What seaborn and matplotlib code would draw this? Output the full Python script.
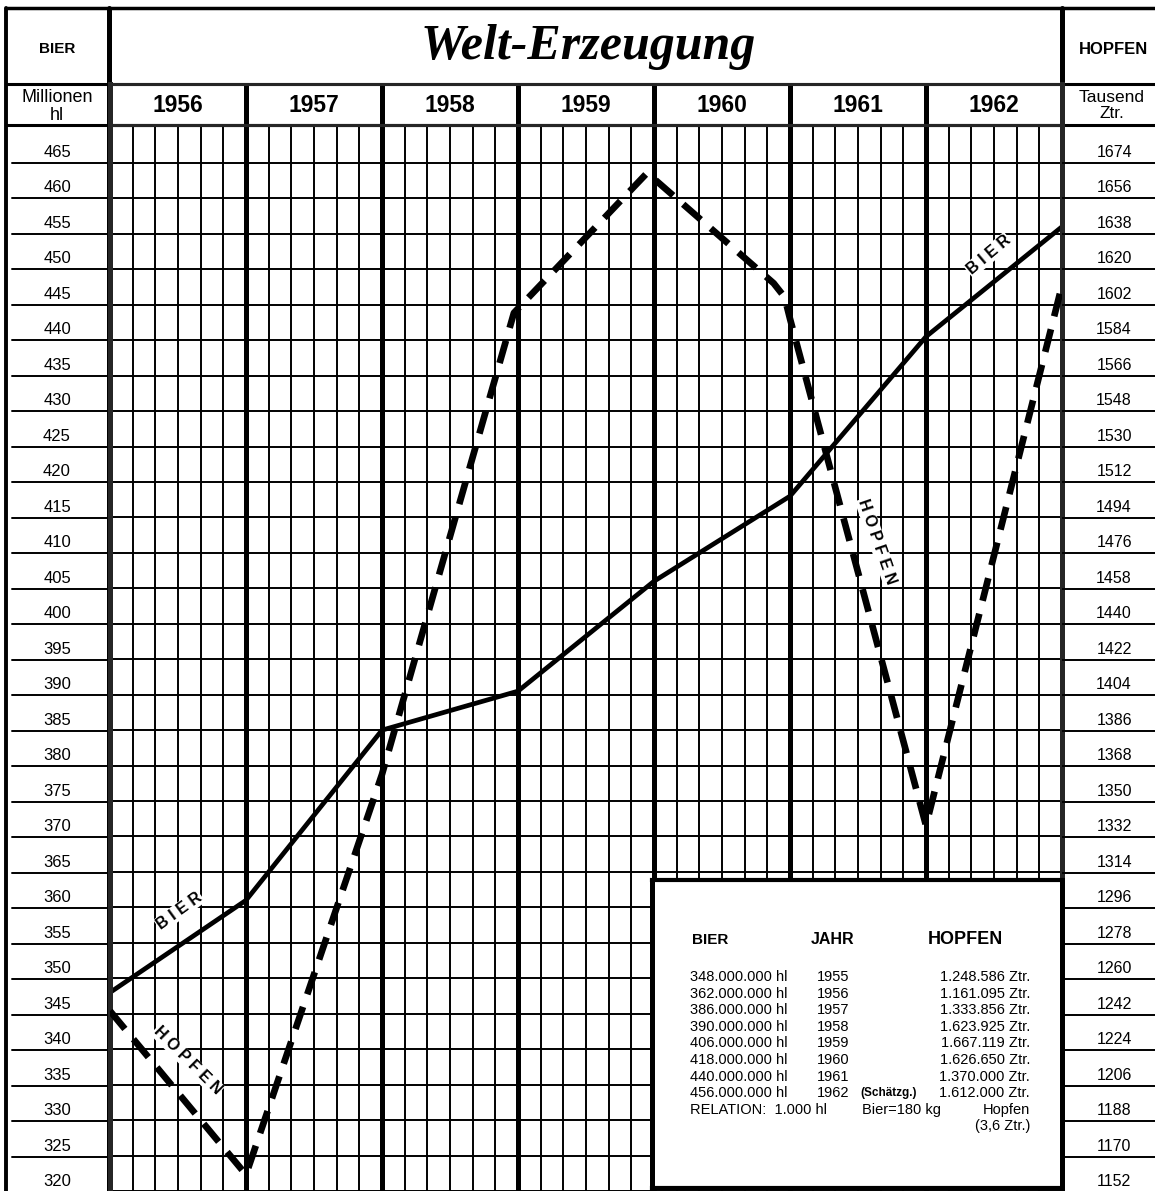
import numpy as np
import matplotlib
matplotlib.use("Agg")
import matplotlib.pyplot as plt
from matplotlib.ticker import MultipleLocator
import seaborn as sns

# year columns of the grid
years = [1956, 1957, 1958, 1959, 1960, 1961, 1962]

# Bier in Mio hl, one value per year, drawn at the end of its year
beer_years = [1955, 1956, 1957, 1958, 1959, 1960, 1961, 1962]
beer_mio_hl = [348, 361, 385, 390.5, 406, 418, 440.5, 456]

# Hopfen in Tausend Ztr. as drawn on the sheet (position in years)
hop_pos = [1956.0, 1957.0, 1958.0, 1958.97, 1959.95, 1960.88, 1960.96, 1961.0, 1962.0, 1963.0]
hop_tztr = [1244, 1161, 1364, 1598, 1669, 1613, 1606, 1595, 1338, 1612]

left_ticks = [465, 460, 455, 450, 445, 440, 435, 430, 425, 420, 415, 410, 405, 400, 395,
              390, 385, 380, 375, 370, 365, 360, 355, 350, 345, 340, 335, 330, 325, 320]
right_ticks = [1674, 1656, 1638, 1620, 1602, 1584, 1566, 1548, 1530, 1512, 1494, 1476, 1458, 1440, 1422,
               1404, 1386, 1368, 1350, 1332, 1314, 1296, 1278, 1260, 1242, 1224, 1206, 1188, 1170, 1152]

# table in the lower right corner
tab_beer = ["348.000.000 hl", "362.000.000 hl", "386.000.000 hl", "390.000.000 hl",
            "406.000.000 hl", "418.000.000 hl", "440.000.000 hl", "456.000.000 hl"]
tab_year = ["1955", "1956", "1957", "1958", "1959", "1960", "1961", "1962"]
tab_hop = ["1.248.586 Ztr.", "1.161.095 Ztr.", "1.333.856 Ztr.", "1.623.925 Ztr.",
           "1.667.119 Ztr.", "1.626.650 Ztr.", "1.370.000 Ztr.", "1.612.000 Ztr."]

sns.set_style("white")
plt.rcParams["font.family"] = ["Liberation Sans", "DejaVu Sans"]
plt.rcParams["text.color"] = "black"

W, H = 1155, 1191
fig = plt.figure(figsize=(W / 100, H / 100), dpi=100)
fig.patch.set_facecolor("white")

THICK = 3.6
THIN = 1.4

# background frame in pixel coordinates
bg = fig.add_axes([0, 0, 1, 1], zorder=0)
bg.set_xlim(0, W)
bg.set_ylim(H, 0)
bg.axis("off")
bg.plot([6, W], [8, 8], color="black", lw=2.5)
bg.plot([6, 6], [8, H], color="black", lw=2.8)
bg.plot([6, W], [84, 84], color="black", lw=2.2)
bg.plot([6, W], [125, 125], color="black", lw=2.2)
bg.plot([109, 109], [8, H], color="black", lw=THICK)
bg.plot([1062, 1062], [8, H], color="black", lw=THICK)

bg.text(588, 47, "Welt-Erzeugung", fontsize=36, fontweight="bold", fontstyle="italic",
        family=["Liberation Serif", "DejaVu Serif"], ha="center", va="center")
bg.text(57, 49, "BIER", fontsize=11, fontweight="bold", ha="center", va="center")
bg.text(57, 98, "Millionen", fontsize=13, ha="center", va="center")
bg.text(57, 115, "hl", fontsize=13, ha="center", va="center")
bg.text(1113, 50, "HOPFEN", fontsize=12, fontweight="bold", ha="center", va="center")
bg.text(1112, 97, "Tausend", fontsize=12.5, ha="center", va="center")
bg.text(1112, 113, "Ztr.", fontsize=12.5, ha="center", va="center")

# main grid
top_px, bot_px = 125, H
ylim = (320.2, 470.35)
ax = fig.add_axes([110 / W, 0, 952 / W, (bot_px - top_px) / H], zorder=1)
ax.patch.set_alpha(0)
ax.set_xlim(1956, 1963)
ax.set_ylim(*ylim)
ax.set_xticks(years + [1963])
ax.xaxis.set_minor_locator(MultipleLocator(1 / 6))
ax.set_yticks(left_ticks)
ax.grid(which="major", axis="x", color="black", lw=THICK)
ax.grid(which="minor", axis="x", color="black", lw=THIN)
ax.grid(which="major", axis="y", color="black", lw=THIN)
ax.tick_params(which="both", length=0, labelbottom=False, labelleft=False)
for s in ["left", "right"]:
    ax.spines[s].set_linewidth(THICK)
ax.spines["top"].set_linewidth(2.2)
ax.spines["bottom"].set_visible(False)

sns.lineplot(x=[y + 1 for y in beer_years], y=beer_mio_hl, ax=ax, color="black",
             linewidth=3.4, sort=False, solid_capstyle="round")
ax.set_xlabel("")
ax.set_ylabel("")

ax2 = ax.twinx()
sns.lineplot(x=hop_pos, y=hop_tztr, ax=ax2, color="black", linewidth=4.8,
             linestyle=(0, (3.5, 2.0)), sort=False, dash_capstyle="butt")
ax2.set_xlim(1956, 1963)
ax2.set_ylim(ylim[0] * 3.6, ylim[1] * 3.6)
ax2.axis("off")

lab = dict(fontsize=11.5, fontweight="bold", ha="center", va="center", rotation_mode="anchor",
           bbox=dict(facecolor="white", edgecolor="none", pad=0.5), zorder=4)
ax.text(1956.51, 359.5, "B I E R", rotation=36, **lab)
ax.text(1956.57, 338.4, "H O P F E N", rotation=-45, **lab)
ax.text(1961.64, 411.6, "H O P F E N", rotation=-71, **lab)
ax.text(1962.46, 452.0, "B I E R", rotation=40, **lab)

# year row
axy = fig.add_axes([110 / W, (H - 125) / H, 952 / W, 41 / H], zorder=1)
axy.patch.set_alpha(0)
axy.set_xlim(1956, 1963)
axy.set_ylim(0, 1)
axy.set_xticks(years + [1963])
axy.set_yticks([])
axy.grid(which="major", axis="x", color="black", lw=THICK)
axy.tick_params(length=0, labelbottom=False)
for s in ["left", "right"]:
    axy.spines[s].set_linewidth(THICK)
for s in ["top", "bottom"]:
    axy.spines[s].set_linewidth(2.2)
for yr in years:
    axy.text(yr + 0.5, 0.47, str(yr), fontsize=16.5, fontweight="bold", ha="center", va="center")

# left scale column (Mio hl)
axl = fig.add_axes([8 / W, 0, 100 / W, (bot_px - top_px) / H], zorder=1)
axl.patch.set_alpha(0)
axl.set_xlim(0, 1)
axl.set_ylim(*ylim)
axl.axis("off")
for v in left_ticks:
    if v > ylim[0]:
        axl.axhline(v, xmin=0.04, xmax=1, color="black", lw=THIN)
    axl.text(0.49, v + 0.45, str(v), fontsize=12, ha="center", va="bottom")

# right scale column (Tausend Ztr.)
axr = fig.add_axes([1062 / W, 0, 93 / W, (bot_px - top_px) / H], zorder=1)
axr.patch.set_alpha(0)
axr.set_xlim(0, 1)
axr.set_ylim(ylim[0] * 3.6, ylim[1] * 3.6)
axr.axis("off")
for v in right_ticks:
    if v > ylim[0] * 3.6:
        axr.axhline(v, xmin=0, xmax=1, color="black", lw=THIN)
    axr.text(0.56, v + 1.6, str(v), fontsize=11.5, ha="center", va="bottom")

# table box
axb = fig.add_axes([652 / W, 3 / H, 410 / W, 308 / H], zorder=5)
axb.set_facecolor("white")
axb.set_xlim(652, 1062)
axb.set_ylim(1188, 880)
axb.set_xticks([])
axb.set_yticks([])
for s in axb.spines.values():
    s.set_linewidth(3.0)
    s.set_color("black")
axb.spines["left"].set_linewidth(THICK)
axb.spines["right"].set_linewidth(THICK)

axb.text(692, 940, "BIER", fontsize=11, fontweight="bold", va="center")
axb.text(811, 940, "JAHR", fontsize=11.5, fontweight="bold", va="center")
axb.text(928, 940, "HOPFEN", fontsize=13, fontweight="bold", va="center")
row_h = 16.6
for i, (b, y, h) in enumerate(zip(tab_beer, tab_year, tab_hop)):
    yy = 977 + i * row_h
    axb.text(690, yy, b, fontsize=10.5, va="center")
    axb.text(817, yy, y, fontsize=10.5, va="center")
    axb.text(1030, yy, h, fontsize=10.5, va="center", ha="right")
axb.text(889, 977 + 7 * row_h, "(Schätzg.)", fontsize=8.5, fontweight="bold", va="center", ha="center")
axb.text(690, 977 + 8 * row_h, "RELATION:  1.000 hl", fontsize=10.5, va="center")
axb.text(862, 977 + 8 * row_h, "Bier=180 kg", fontsize=10.5, va="center")
axb.text(1030, 977 + 8 * row_h, "Hopfen", fontsize=10.5, va="center", ha="right")
axb.text(1030, 977 + 9 * row_h, "(3,6 Ztr.)", fontsize=10.5, va="center", ha="right")

fig.savefig("out.png", dpi=100, facecolor="white")
